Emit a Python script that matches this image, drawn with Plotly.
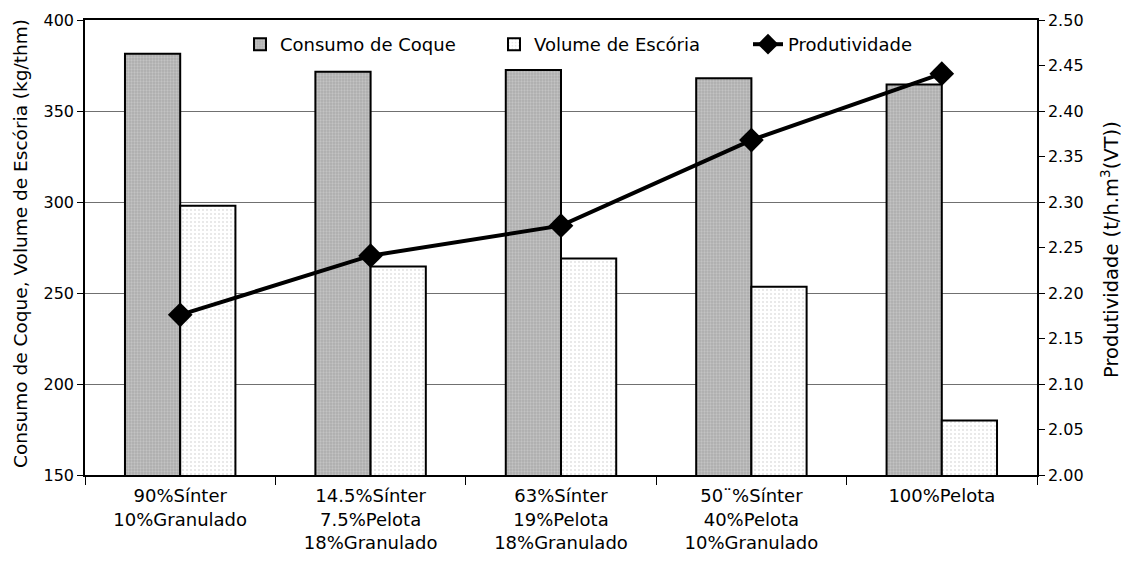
import plotly.graph_objects as go

categories = ["90%Sínter<br>10%Granulado",
              "14.5%Sínter<br>7.5%Pelota<br>18%Granulado",
              "63%Sínter<br>19%Pelota<br>18%Granulado",
              "50¨%Sínter<br>40%Pelota<br>10%Granulado",
              "100%Pelota"]
consumo_coque = [381.5, 371.5, 372.5, 368, 364.5]
volume_escoria = [298, 264.5, 269, 253.5, 180]
produtividade = [2.176, 2.241, 2.274, 2.368, 2.441]

FONT = "DejaVu Sans, Verdana, sans-serif"
tick_font = dict(family=FONT, size=16, color="#000")

# page body has an 8px default margin: size and margins compensate for it
OFF = 8
W, H = 1129 - OFF, 568 - OFF
PL, PR, PT, PB = 85, 1037, 20, 475  # target plot area in window pixels
pw = PR - PL
ph = PB - PT

fig = go.Figure()
fig.add_trace(go.Bar(
    x=categories, y=consumo_coque, name="Consumo de Coque",
    marker=dict(color="#b4b4b4", line=dict(color="#000", width=2),
                pattern=dict(shape=".", fgcolor="#dadada", bgcolor="#acacac",
                             size=3, solidity=0.45)),
))
fig.add_trace(go.Bar(
    x=categories, y=volume_escoria, name="Volume de Escória",
    marker=dict(color="#ffffff", line=dict(color="#000", width=2),
                pattern=dict(shape=".", fgcolor="#c4c4c4", bgcolor="#ffffff",
                             size=4, solidity=0.2)),
))
fig.add_trace(go.Scatter(
    x=categories, y=produtividade, name="Produtividade", yaxis="y2",
    mode="lines+markers",
    line=dict(color="#000", width=4),
    marker=dict(symbol="diamond", size=19, color="#000"),
))

fig.update_layout(
    width=W, height=H,
    margin=dict(l=PL - OFF, r=1129 - PR, t=PT - OFF, b=568 - PB, pad=0,
                autoexpand=False),
    paper_bgcolor="white", plot_bgcolor="white",
    barmode="group", bargap=0.42, bargroupgap=0,
    font=tick_font,
    showlegend=True,
    legend=dict(orientation="h", x=(240 - PL) / pw, xanchor="left",
                y=(PB - 26) / ph, yanchor="top",
                font=dict(family=FONT, size=18, color="#000"),
                bgcolor="rgba(255,255,255,0)", traceorder="normal",
                itemwidth=30, entrywidth=209, tracegroupgap=0),
    xaxis=dict(showline=True, linecolor="#000", linewidth=1.5, mirror=True,
               ticks="outside", tickson="boundaries", ticklen=8, tickcolor="#000",
               tickfont=dict(family=FONT, size=18, color="#000"),
               ticklabelstandoff=4,
               showgrid=False, automargin=False),
    yaxis=dict(range=[150, 400], dtick=50, showline=True, linecolor="#000", linewidth=1.5,
               ticks="outside", ticklen=6, tickcolor="#000",
               showgrid=True, gridcolor="#707070", gridwidth=1, zeroline=False,
               tickfont=tick_font, automargin=False),
    yaxis2=dict(range=[2.0, 2.5], dtick=0.05, tickformat=".2f", overlaying="y", side="right",
                showline=True, linecolor="#000", linewidth=1.5,
                ticks="outside", ticklen=6, tickcolor="#000",
                showgrid=False, zeroline=False,
                tickfont=tick_font, automargin=False),
    annotations=[
        dict(text="Consumo de Coque, Volume de Escória (kg/thm)", textangle=-90,
             xref="paper", yref="paper", x=(20 - PL) / pw, y=(PB - 244) / ph,
             xanchor="center", yanchor="middle", showarrow=False,
             font=dict(family=FONT, size=18.5, color="#000")),
        dict(text="Produtividade (t/h.m<sup>3</sup>(VT))", textangle=-90,
             xref="paper", yref="paper", x=(1110 - PL) / pw, y=(PB - 250) / ph,
             xanchor="center", yanchor="middle", showarrow=False,
             font=dict(family=FONT, size=19.5, color="#000")),
    ],
)

fig.write_html("out.html")
